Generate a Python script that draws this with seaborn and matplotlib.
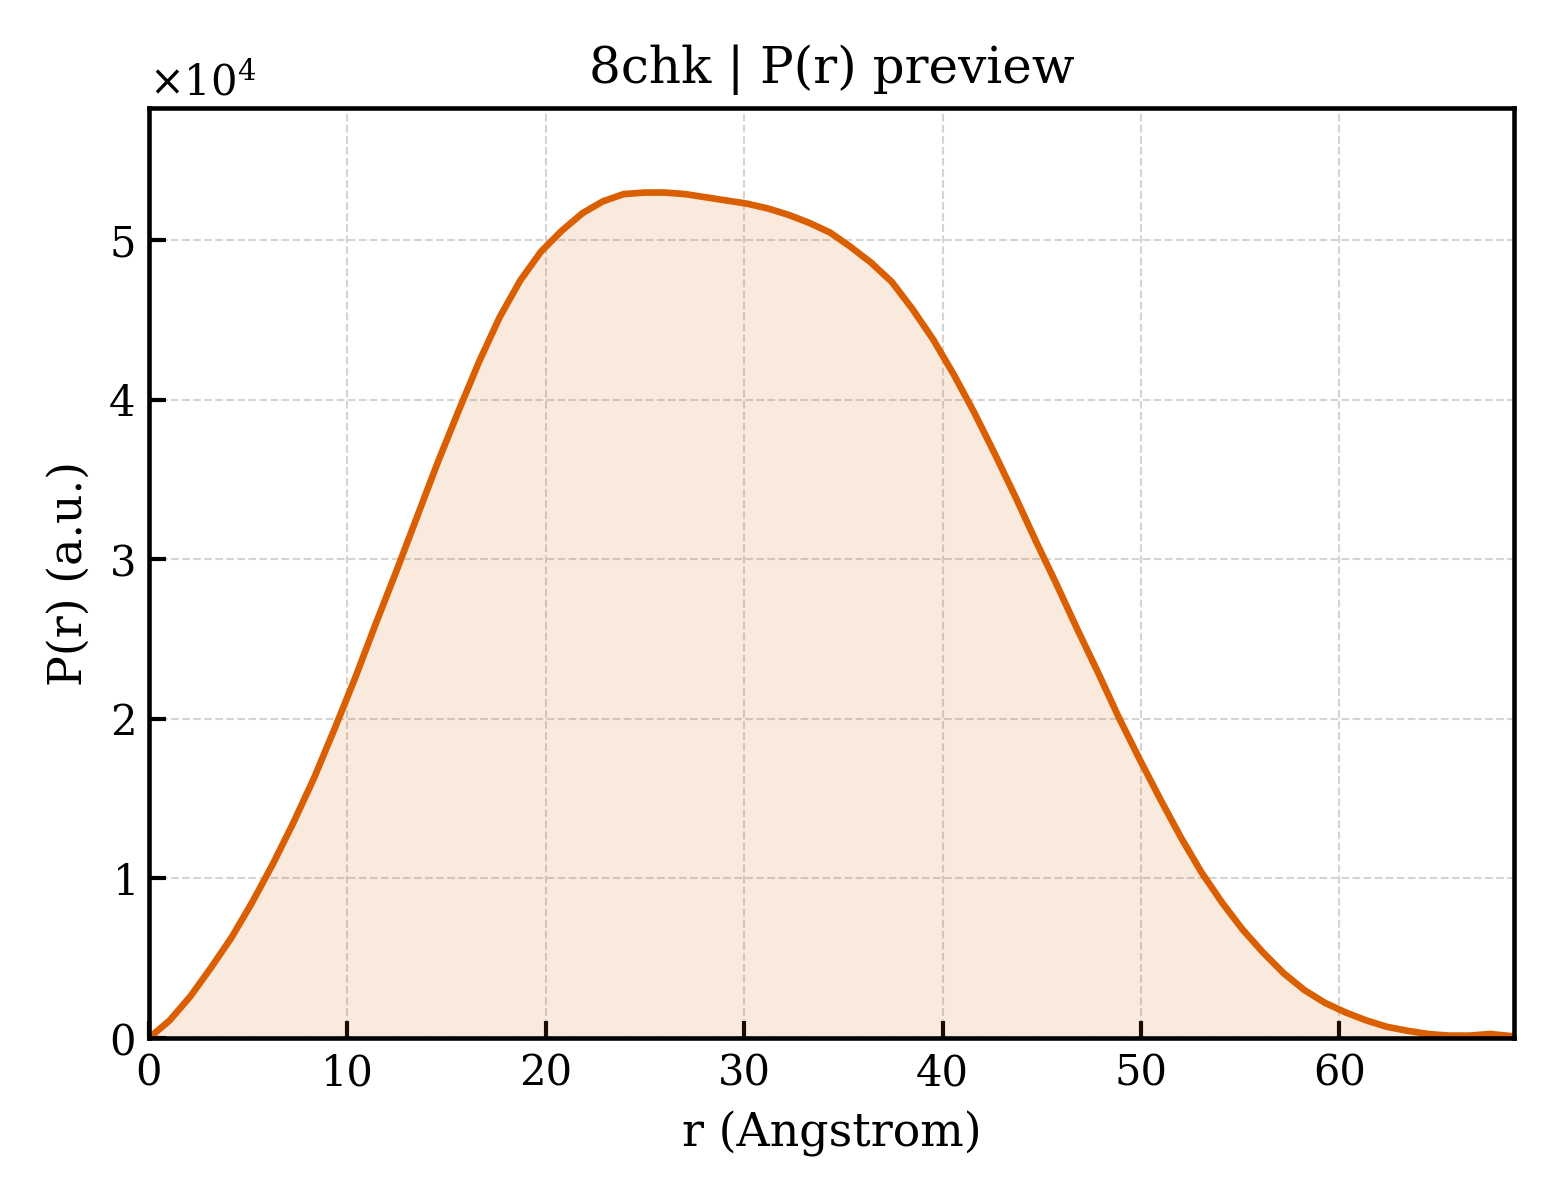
"""P(r) preview for 8chk: pair-distance distribution with a shaded area."""

import matplotlib
matplotlib.use("Agg")
import matplotlib.pyplot as plt
import pandas as pd
import seaborn as sns

# r grid (Angstrom)
r_values = [
    0.0, 1.04, 2.08, 3.12, 4.16, 5.2, 6.24, 7.28, 8.32, 9.36,
    10.4, 11.44, 12.48, 13.52, 14.56, 15.6, 16.64, 17.68, 18.72, 19.76,
    20.8, 21.84, 22.88, 23.92, 24.96, 26.0, 27.04, 28.08, 29.12, 30.16,
    31.2, 32.24, 33.28, 34.32, 35.36, 36.4, 37.44, 38.48, 39.52, 40.56,
    41.6, 42.64, 43.68, 44.72, 45.76, 46.8, 47.84, 48.88, 49.92, 50.96,
    52.0, 53.04, 54.08, 55.12, 56.16, 57.2, 58.24, 59.28, 60.32, 61.36,
    62.4, 63.44, 64.48, 65.52, 66.56, 67.6, 68.8,
]

# P(r) in arbitrary units
pr_values = [
    0, 1100, 2600, 4400, 6300, 8500, 10900, 13500, 16300, 19400,
    22600, 26000, 29300, 32700, 36100, 39300, 42400, 45200, 47500, 49300,
    50600, 51700, 52450, 52900, 53000, 53000, 52900, 52700, 52500, 52300,
    52000, 51600, 51100, 50500, 49600, 48600, 47400, 45700, 43800, 41600,
    39200, 36600, 33900, 31100, 28400, 25600, 22900, 20100, 17500, 15000,
    12600, 10400, 8500, 6800, 5350, 4050, 3000, 2200, 1600, 1100,
    700, 450, 250, 150, 150, 250, 100,
]

df = pd.DataFrame({"r": r_values, "pr": pr_values})

sns.set_style("ticks")
plt.rcParams["font.family"] = ["DejaVu Serif"]
plt.rcParams["mathtext.fontset"] = "dejavuserif"
plt.rcParams["text.color"] = "black"
plt.rcParams["axes.labelcolor"] = "black"
plt.rcParams["xtick.color"] = "black"
plt.rcParams["ytick.color"] = "black"

line_color = "#D95F02"

fig, ax = plt.subplots(figsize=(5.2, 4.0), dpi=300)
fig.subplots_adjust(left=0.0955, right=0.9705, bottom=0.135, top=0.91)

ax.fill_between(df["r"], 0, df["pr"], color=line_color, alpha=0.13, linewidth=0)
sns.lineplot(data=df, x="r", y="pr", ax=ax, color=line_color, linewidth=1.6)

ax.set_xlim(0, df["r"].max())
ax.set_ylim(0, df["pr"].max() * 1.1)

ax.grid(True, linestyle="--", linewidth=0.5, color="#d0d0d0", alpha=0.9)
ax.set_axisbelow(True)

ax.ticklabel_format(axis="y", style="sci", scilimits=(0, 0), useMathText=True)
ax.yaxis.get_offset_text().set_fontsize(10)

ax.tick_params(direction="in", length=4, width=1.0, labelsize=10,
               top=False, right=False)
for spine in ax.spines.values():
    spine.set_linewidth(1.1)
    spine.set_color("black")
    spine.set_visible(True)

ax.set_xlabel("r (Angstrom)", fontsize=11)
ax.set_ylabel("P(r) (a.u.)", fontsize=11)
ax.set_title("8chk | P(r) preview", fontsize=12)

fig.savefig("out.png", dpi=300)
